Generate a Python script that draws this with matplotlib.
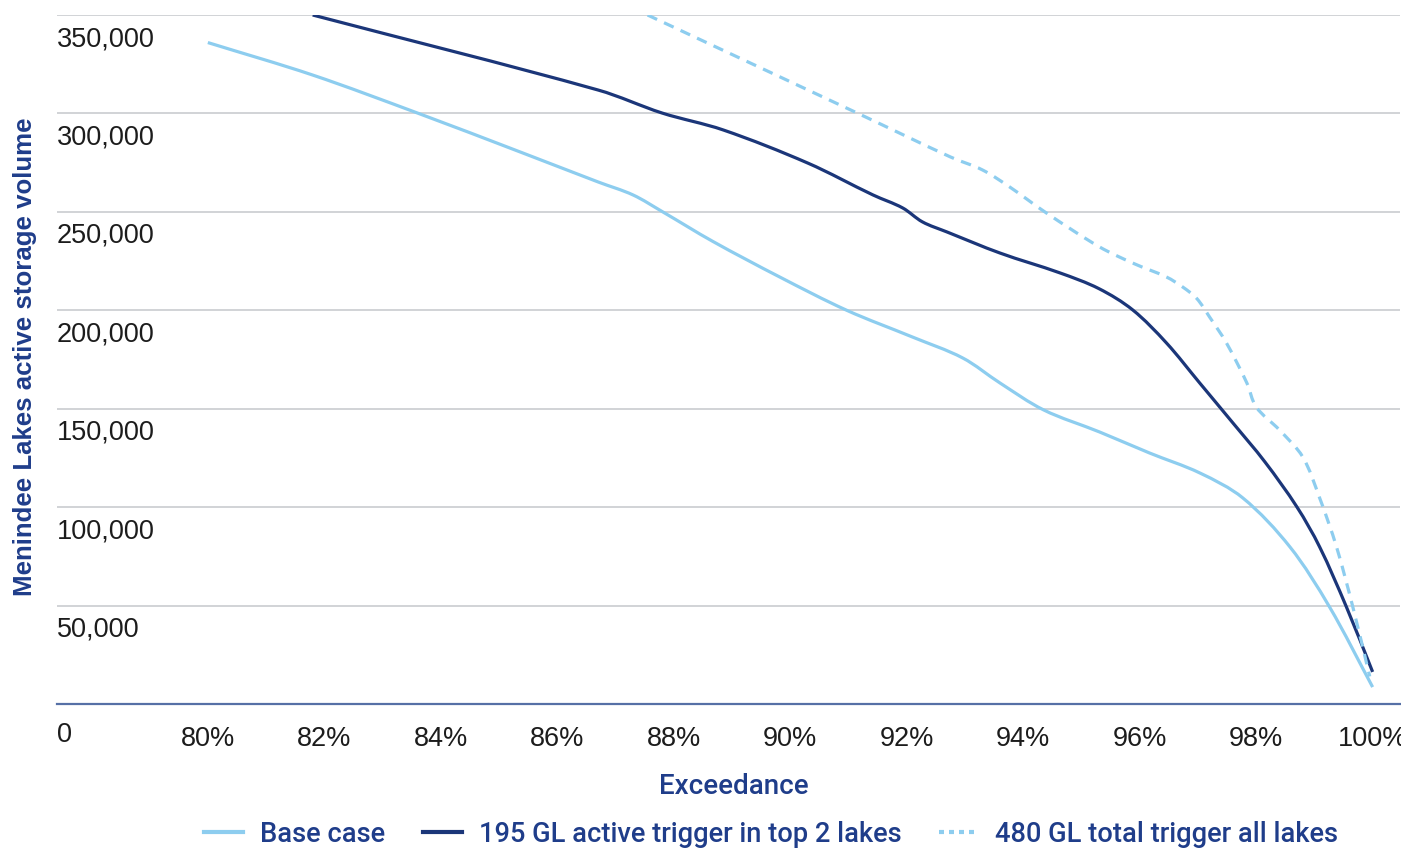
import matplotlib
matplotlib.use("Agg")
import matplotlib.pyplot as plt
import numpy as np
from matplotlib.lines import Line2D
from matplotlib.path import Path
from matplotlib.patches import PathPatch
from matplotlib.ticker import FuncFormatter
from matplotlib.transforms import ScaledTranslation

# exceedance (%) and active storage volume
base_x = [80.0, 81.8, 83.6, 85.4, 86.7, 87.3, 87.81, 88.67, 89.82, 90.97, 92.1, 92.96,
          93.6, 94.35, 95.31, 96.17, 97.03, 97.77, 98.58, 99.26, 100.0]
base_y = [336000, 319500, 300200, 280000, 265200, 258600, 250000, 235000, 216900, 200000,
          186400, 175800, 163100, 149400, 138200, 127500, 117400, 104700, 79800, 49300, 8600]

gl195_x = [81.8, 86.7, 87.8, 88.85, 90.3, 91.42, 91.93, 92.27, 92.69, 93.6, 94.63, 95.3,
           95.88, 96.46, 97.03, 97.6, 98.15, 98.7, 99.09, 99.55, 100.0]
gl195_y = [350000, 311900, 300200, 291600, 274800, 258600, 252000, 244900, 239800, 229100,
           219000, 211000, 200200, 183400, 163100, 142800, 123000, 100100, 79800, 49300, 16300]

gl480_x = [87.55, 91.15, 92.75, 93.3, 93.77, 94.4, 95.31, 95.88, 96.46, 96.74,
           96.98, 97.2, 97.49, 97.84, 98.0, 98.4, 98.8, 99.09, 99.38, 99.66, 99.95]
gl480_y = [350000, 300200, 277900, 271300, 262600, 249400, 232200, 224000, 216900,
           211800, 206000, 196600, 183400, 163100, 150900, 139200, 125500, 104700, 79800,
           49300, 14000]

labels = ["Base case", "195 GL active trigger in top 2 lakes", "480 GL total trigger all lakes"]
x_ticks = [80, 82, 84, 86, 88, 90, 92, 94, 96, 98, 100]

light = "#8dcdef"
navy = "#1b3679"
title_col = "#1f3d8a"
tick_col = "#1c1c1c"
grid_col = "#c9cccf"

XLIM = (77.41, 100.47)
YLIM = (0, 350000)


def smooth_path(xs, ys):
    # smoothed line through the points: cubic Hermite with chord-length tangents
    p = np.column_stack([xs, ys]).astype(float)
    # scale so that distances are roughly in screen units
    s = np.array([1343 / (XLIM[1] - XLIM[0]), 689 / (YLIM[1] - YLIM[0])])
    q = p * s
    d = np.hypot(*np.diff(q, axis=0).T)
    t = np.concatenate([[0], np.cumsum(d)])
    n = len(q)
    m = np.zeros_like(q)
    m[0] = (q[1] - q[0]) / (t[1] - t[0])
    m[-1] = (q[-1] - q[-2]) / (t[-1] - t[-2])
    for i in range(1, n - 1):
        m[i] = (q[i + 1] - q[i - 1]) / (t[i + 1] - t[i - 1])
    verts = [q[0]]
    codes = [Path.MOVETO]
    for i in range(n - 1):
        h = t[i + 1] - t[i]
        verts += [q[i] + m[i] * h / 3, q[i + 1] - m[i + 1] * h / 3, q[i + 1]]
        codes += [Path.CURVE4] * 3
    return Path(np.array(verts) / s, codes)


fig = plt.figure(figsize=(14.01, 8.48), dpi=100)
ax = fig.add_axes([57 / 1401, 1 - 704 / 848, 1343 / 1401, 689 / 848])

ax.add_patch(PathPatch(smooth_path(base_x, base_y), fill=False, edgecolor=light, lw=2.3,
                       joinstyle="round", capstyle="butt"))
ax.add_patch(PathPatch(smooth_path(gl195_x, gl195_y), fill=False, edgecolor=navy, lw=2.3,
                       joinstyle="round", capstyle="butt"))
ax.add_patch(PathPatch(smooth_path(gl480_x, gl480_y), fill=False, edgecolor=light, lw=2.3,
                       linestyle=(0, (3.3, 2.4)), capstyle="butt"))

ax.set_xlim(*XLIM)
ax.set_ylim(*YLIM)

ax.set_yticks(np.arange(0, 350001, 50000))
ax.yaxis.set_major_formatter(FuncFormatter(lambda v, p: f"{int(v):,}"))
ax.set_xticks(x_ticks)
ax.set_xticklabels([f"{t}%" for t in x_ticks])

ax.grid(axis="y", color=grid_col, lw=1.2)
ax.set_axisbelow(True)
for s in ["top", "right", "left"]:
    ax.spines[s].set_visible(False)
ax.spines["bottom"].set_color("#5670a6")
ax.spines["bottom"].set_linewidth(1.6)

ax.tick_params(axis="both", length=0, labelsize=19.5, labelcolor=tick_col)
ax.tick_params(axis="x", pad=16)
ax.tick_params(axis="y", pad=0)
for loc, lab in zip(ax.get_yticks(), ax.get_yticklabels()):
    lab.set_horizontalalignment("left")
    lab.set_verticalalignment("top")
    lab.set_fontfamily("Liberation Sans")
    dy = -13 / 72 if loc == 0 else -8 / 72
    lab.set_transform(lab.get_transform() + ScaledTranslation(0, dy, fig.dpi_scale_trans))
for lab in ax.get_xticklabels():
    lab.set_fontfamily("Liberation Sans")

fig.text(25 / 1401, 1 - 357 / 848, "Menindee Lakes active storage volume", rotation=90,
         ha="center", va="center", fontsize=18.6, fontweight="bold", color=title_col,
         family="Liberation Sans")
fig.text(734 / 1401, 1 - 787 / 848, "Exceedance", ha="center", va="center",
         fontsize=20, fontweight="medium", color=title_col, family="Roboto")

handles = [Line2D([], [], color=light, lw=3),
           Line2D([], [], color=navy, lw=3),
           Line2D([], [], color=light, lw=3, dashes=(1.2, 1.2))]
leg = fig.legend(handles, labels, loc="center", bbox_to_anchor=(771 / 1401, 1 - 834 / 848),
                 ncol=3, frameon=False, handlelength=1.45, handletextpad=0.6,
                 columnspacing=1.4, prop={"family": "Roboto", "weight": "medium", "size": 19.6})
for t in leg.get_texts():
    t.set_color(title_col)

fig.savefig("out.png", dpi=100)
